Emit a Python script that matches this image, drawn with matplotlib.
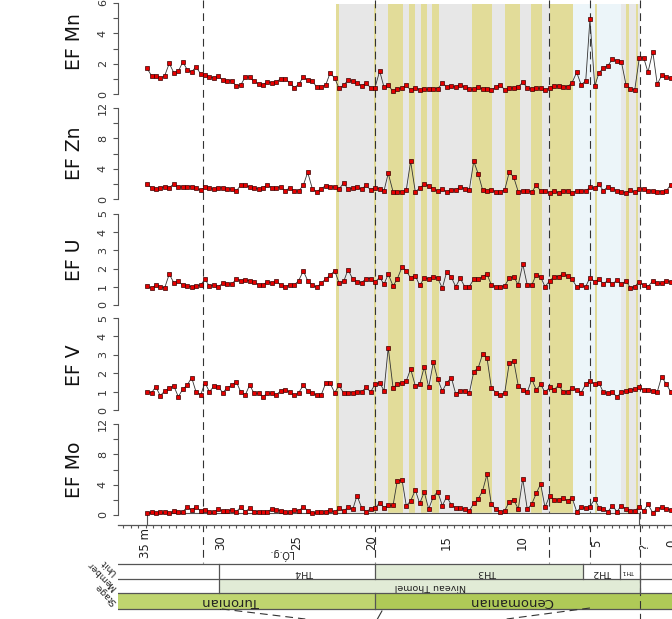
import numpy as np
import matplotlib.pyplot as plt
from matplotlib.ticker import MultipleLocator

# sample depths (m) shared by all five records
depth = [34.95, 34.62, 34.35, 34.05, 33.75, 33.45, 33.15, 32.85, 32.55, 32.25, 31.96, 31.67, 31.36, 31.07, 30.78, 30.47, 30.19, 29.89,
         29.59, 29.29, 28.99, 28.70, 28.39, 28.10, 27.81, 27.50, 27.21, 26.93, 26.61, 26.33, 26.03, 25.73, 25.44, 25.13, 24.84, 24.53,
         24.24, 23.93, 23.64, 23.35, 23.04, 22.75, 22.44, 22.16, 21.84, 21.56, 21.24, 20.96, 20.65, 20.36, 20.05, 19.76, 19.45, 19.16,
         18.88, 18.56, 18.28, 17.96, 17.68, 17.39, 17.08, 16.79, 16.48, 16.19, 15.88, 15.59, 15.28, 14.99,
         14.68, 14.39, 14.09, 13.79, 13.49, 13.19, 12.89, 12.60, 12.31, 12.02, 11.71, 11.42, 11.13, 10.83, 10.53, 10.23, 9.93, 9.63,
         9.33, 9.03, 8.74, 8.45, 8.14, 7.85, 7.54, 7.25, 6.94, 6.65, 6.34, 6.05, 5.74, 5.46, 5.14, 4.86, 4.57, 4.26, 3.97, 3.66,
         3.37, 3.06, 2.77, 2.48, 2.18, 1.88, 1.60, 1.28, 0.98, 0.69, 0.38, 0.09]

ef_mn = [1.73, 1.19, 1.19, 1.03, 1.21, 2.02, 1.41, 1.49, 2.11, 1.60, 1.45, 1.80, 1.32, 1.23, 1.14, 1.05, 1.17, 0.92,
         0.88, 0.86, 0.53, 0.57, 1.14, 1.10, 0.84, 0.66, 0.61, 0.79, 0.73, 0.79, 1.01, 0.99, 0.75, 0.42, 0.64, 1.12, 0.90, 0.88,
         0.44, 0.48, 0.59, 1.38, 1.05, 0.38, 0.57, 0.92, 0.84, 0.71, 0.55, 0.71, 0.42, 0.42, 1.52, 0.44, 0.57, 0.18, 0.33, 0.42,
         0.57, 0.26, 0.42, 0.28, 0.31, 0.31, 0.35, 0.35, 0.71, 0.48,
         0.53, 0.44, 0.61, 0.44, 0.31, 0.31, 0.44, 0.35, 0.35, 0.26, 0.46, 0.61, 0.26, 0.38, 0.40, 0.48, 0.77, 0.42, 0.31, 0.38,
         0.38, 0.26, 0.40, 0.51, 0.53, 0.48, 0.48, 0.75, 1.43, 0.61, 0.86, 4.92, 0.53, 1.38, 1.73, 1.87, 2.29, 2.20, 2.13, 0.61,
         0.35, 0.26, 2.35, 2.39, 1.43, 2.79, 0.64, 1.23, 1.14, 1.03]

ef_zn = [1.94, 1.49, 1.28, 1.49, 1.62, 1.49, 1.98, 1.54, 1.62, 1.62, 1.62, 1.41, 1.19, 1.54, 1.41, 1.28, 1.41, 1.49,
         1.36, 1.28, 1.05, 1.81, 1.81, 1.58, 1.49, 1.28, 1.49, 1.85, 1.49, 1.49, 1.62, 1.05, 1.49, 1.05, 1.05, 1.81, 3.52, 1.36,
         0.96, 1.36, 1.75, 1.58, 1.58, 1.28, 2.15, 1.28, 1.41, 1.58, 1.28, 1.81, 1.19, 1.49, 1.36, 1.09, 3.39, 0.96, 0.96, 0.96,
         1.19, 4.97, 0.96, 1.41, 1.94, 1.75, 1.36, 1.05, 1.28, 0.96,
         1.19, 1.19, 1.62, 1.36, 1.19, 4.97, 3.30, 1.19, 1.05, 1.19, 0.96, 0.96, 1.19, 3.56, 2.86, 0.96, 1.09, 1.09, 0.92, 1.81,
         1.05, 1.05, 0.83, 1.05, 0.83, 1.09, 1.05, 0.83, 1.05, 1.05, 1.05, 1.54, 1.41, 1.94, 1.09, 1.62, 1.36, 1.09, 0.96, 0.83,
         1.19, 0.88, 1.36, 1.28, 1.09, 1.05, 0.96, 0.96, 1.09, 1.85]

ef_u = [1.04, 0.92, 1.10, 1.01, 0.95, 1.70, 1.23, 1.30, 1.10, 1.04, 1.01, 1.04, 1.10, 1.41, 1.04, 1.10, 1.01, 1.19,
        1.15, 1.15, 1.43, 1.34, 1.37, 1.34, 1.28, 1.10, 1.10, 1.28, 1.19, 1.30, 1.10, 1.01, 1.10, 1.10, 1.34, 1.87, 1.34, 1.10,
        0.97, 1.19, 1.43, 1.63, 1.88, 1.23, 1.30, 1.94, 1.43, 1.28, 1.23, 1.45, 1.45, 1.26, 1.52, 1.14, 1.70, 1.04, 1.43, 2.09,
        1.88, 1.48, 1.61, 1.08, 1.48, 1.43, 1.54, 1.47, 0.93, 1.83,
        1.52, 1.01, 1.47, 1.01, 1.01, 1.41, 1.41, 1.56, 1.70, 1.10, 1.01, 1.01, 1.06, 1.47, 1.56, 1.10, 2.25, 1.10, 1.10, 1.67,
        1.54, 1.01, 1.32, 1.56, 1.56, 1.72, 1.59, 1.41, 1.01, 1.08, 1.01, 1.50, 1.28, 1.43, 1.15, 1.36, 1.14, 1.37, 1.14, 1.32,
        0.95, 1.01, 1.28, 1.08, 1.01, 1.32, 1.19, 1.19, 1.32, 1.26]

ef_v = [0.99, 0.94, 1.27, 0.78, 1.03, 1.18, 1.32, 0.72, 1.13, 1.36, 1.76, 0.99, 0.82, 1.48, 0.99, 1.30, 1.27, 0.94,
        1.21, 1.34, 1.54, 0.99, 0.82, 1.36, 0.91, 0.91, 0.72, 0.91, 0.91, 0.82, 1.05, 1.09, 0.99, 0.80, 0.94, 1.34, 1.05, 0.94,
        0.80, 0.80, 1.45, 1.45, 0.94, 1.34, 0.91, 0.94, 0.94, 0.98, 0.98, 1.23, 0.98, 1.40, 1.48, 1.05, 3.39, 1.21, 1.40, 1.48,
        1.58, 2.23, 1.32, 1.40, 2.35, 1.23, 2.59, 1.68, 1.02, 1.48,
        1.76, 0.87, 1.05, 1.03, 0.91, 2.08, 2.30, 3.04, 2.84, 1.21, 0.94, 0.82, 0.94, 2.54, 2.66, 1.32, 1.09, 0.96, 1.68, 1.09,
        1.40, 0.96, 1.23, 1.09, 1.36, 0.99, 0.99, 1.18, 1.09, 0.94, 1.40, 1.59, 1.41, 1.48, 0.96, 0.91, 0.96, 0.72, 0.96, 1.05,
        1.09, 1.12, 1.23, 1.09, 1.09, 1.05, 0.99, 1.81, 1.41, 0.99]

ef_mo = [0.22, 0.36, 0.22, 0.36, 0.36, 0.22, 0.53, 0.40, 0.40, 1.09, 0.66, 1.09, 0.53, 0.66, 0.44, 0.36, 0.75, 0.53,
         0.53, 0.66, 0.44, 1.01, 0.44, 0.88, 0.44, 0.44, 0.44, 0.44, 0.79, 0.66, 0.57, 0.44, 0.36, 0.66, 0.53, 1.09, 0.53, 0.22,
         0.36, 0.36, 0.44, 0.66, 0.36, 0.88, 0.53, 1.01, 0.75, 2.55, 0.97, 0.44, 0.79, 0.88, 1.62, 0.97, 1.27, 1.27, 4.48, 4.62,
         1.23, 1.85, 3.30, 1.54, 2.99, 0.79, 2.42, 3.08, 1.23, 2.42,
         1.32, 0.97, 0.88, 0.79, 0.53, 1.54, 2.11, 3.21, 5.36, 1.41, 0.75, 0.44, 0.57, 1.75, 1.98, 0.79, 4.79, 0.79, 1.45, 2.86,
         4.09, 1.01, 2.55, 1.98, 1.98, 2.20, 1.89, 2.28, 0.44, 1.01, 0.88, 1.09, 2.11, 0.97, 0.79, 0.44, 1.23, 0.44, 1.23, 0.79,
         0.57, 0.53, 1.09, 0.53, 1.41, 0.31, 0.79, 1.01, 0.79, 0.66]

# intervals (top, base in m)
grey_zone = (22.36, 2.13)
yellow_zones = [(22.36, 22.16), (19.82, 19.72), (18.90, 17.90), (17.50, 17.10), (16.70, 16.30), (15.97, 15.50),
                (13.31, 11.98), (11.11, 10.11), (9.38, 8.65), (8.12, 6.59), (5.12, 4.99), (3.06, 2.86), (2.40, 2.26)]
blue_zone = (6.59, 3.39)
dashed_at = [31.2, 19.76, 8.18, 5.46, 2.13]

xticks = [35, 30, 25, 20, 15, 10, 5, 0]
xticklabels = ["35 m", "30", "25", "20", "15", "10", "5", "0"]

stages = [("Turonian", 36.86, 19.76, "#bfd56f", 29.34), ("Cenomanian", 19.76, -1.0, "#afca57", 10.71)]
member = ("Niveau Thomel", 30.14, 2.13, 16.1)
units = [("TH4", 30.14, 19.76, 24.42), ("TH3", 19.76, 5.92, 12.24), ("TH2", 5.92, 3.46, 4.59), ("TH1", 3.46, 2.13, 2.93)]

W, H = 672, 619
XL = (36.86, 0.0)
fig = plt.figure(figsize=(6.72, 6.19), dpi=100)
plt.rcParams['font.family'] = ['DejaVu Sans']


def fy(py):
    return 1 - py / H


AX_L = 118 / W
AX_W = (672 - 118) / W

# background / overlay in (depth, pixel row) coordinates
ov = fig.add_axes([AX_L, 0, AX_W, 1])
ov.set_xlim(*XL)
ov.set_ylim(H, 0)
ov.axis('off')

y_lo, y_hi = 1 - 513 / H, 1 - 4 / H
ov.axvspan(grey_zone[1], grey_zone[0], y_lo, y_hi, color='#e7e7e7', lw=0)
ov.axvspan(blue_zone[1], blue_zone[0], y_lo, y_hi, color='#ecf5f9', lw=0)
for a, b in yellow_zones:
    ov.axvspan(b, a, y_lo, y_hi, color='#e2dc99', lw=0)

dash = (0, (7, 4.5))
for d in dashed_at:
    bottom = 619 if d == dashed_at[-1] else 563
    ov.plot([d, d], [0, bottom], color='#333333', lw=0.8, ls=dash)

# white log strip under the Mo curve
ov.fill_between([34.93, 2.20], 513, 525, color='white', zorder=2)
ov.plot([34.93, 34.93, 2.20, 2.20], [525, 513, 513, 525], color='#555555', lw=0.8, zorder=3)

# stratigraphic columns
for name, a, b, c, xt in stages:
    ov.fill_between([a, b], 593, 609, color=c, lw=0)
    ov.text(xt, 601.5, name, rotation=180, ha='center', va='center', fontsize=9.5, color='#222222')
ov.fill_between([member[1], member[2]], 579, 593, color='#e1ebd6', lw=0)
ov.text(member[3], 586, member[0], rotation=180, ha='center', va='center', fontsize=6.8, color='#222222')
ov.fill_between([units[1][1], units[1][2]], 564, 579, color='#e1ebd6', lw=0)
for name, a, b, xt in units:
    ov.text(xt, 572, name, rotation=180, ha='center', va='center',
            fontsize=4.5 if name == "TH1" else 6.8, color='#222222')
for yy in [564, 579, 593, 609]:
    ov.plot(XL, [yy, yy], color='#555555', lw=0.9)
for d, y0, y1 in [(30.14, 564, 593), (19.76, 564, 579), (19.76, 593, 609), (5.92, 564, 579),
                  (3.46, 564, 579), (2.13, 564, 593)]:
    ov.plot([d, d], [y0, y1], color='#555555', lw=0.9)

# fan lines below the columns
ov.plot([29.95, 24.4], [609, 619], color='#333333', lw=0.8, ls=dash, clip_on=False)
ov.plot([5.46, 11.0], [608, 619], color='#333333', lw=0.8, ls=dash, clip_on=False)
ov.plot([19.3, 19.6], [611, 619], color='#333333', lw=0.8, clip_on=False)

for lab, py in [("Stage", 603), ("Member", 589), ("Unit", 574)]:
    fig.text(115 / W, fy(py), lab, rotation=135, rotation_mode='anchor', ha='left', va='center',
             fontsize=6.5, color='#222222')

ov.text(1.8, 547, "?", rotation=90, ha='center', va='center', fontsize=8.5, color='#222222')
ov.text(26.05, 554, "LÓ.g.", rotation=180, ha='center', va='center', fontsize=7, color='#222222')

# geochemical panels
panels = [("EF Mn", ef_mn, 6, 2, 94, 3, 41.5),
          ("EF Zn", ef_zn, 12, 4, 199, 108, 153.5),
          ("EF U", ef_u, 5, 1, 305, 214, 259.5),
          ("EF V", ef_v, 5, 1, 410, 318, 365),
          ("EF Mo", ef_mo, 12, 4, 515, 424, 469.5)]

for label, vals, ymax, step, y0, y1, ylab in panels:
    ax = fig.add_axes([AX_L, fy(y0), AX_W, (y0 - y1) / H])
    ax.patch.set_alpha(0)
    ax.plot(depth, vals, '-', color='#333333', lw=0.6, marker='s', ms=3.3,
            mfc='#e60000', mec='#3a0000', mew=0.5, clip_on=False)
    ax.set_xlim(*XL)
    ax.set_ylim(0, ymax)
    for s in ['top', 'right', 'bottom']:
        ax.spines[s].set_visible(False)
    ax.spines['left'].set_bounds(0, ymax)
    ax.spines['left'].set_color('#555555')
    ax.spines['left'].set_linewidth(0.8)
    ax.set_xticks([])
    ticks = list(range(0, ymax + 1, step))
    ax.set_yticks(ticks, [str(t) for t in ticks], rotation=90, va='center')
    if step > 1:
        ax.yaxis.set_minor_locator(MultipleLocator(step / 2))
    ax.tick_params(axis='y', which='both', length=3.6, width=0.8, color='#555555', pad=3.7,
                   labelsize=8, labelcolor='#333333')
    fig.text(75 / W, fy(ylab), label, rotation=90, ha='center', va='center', fontsize=13.5, color='#111111')

# depth axis
ax_x = fig.add_axes([AX_L, fy(524.5), AX_W, 1 / H])
ax_x.patch.set_alpha(0)
ax_x.set_xlim(*XL)
for s in ['top', 'right', 'left']:
    ax_x.spines[s].set_visible(False)
ax_x.spines['bottom'].set_color('#555555')
ax_x.spines['bottom'].set_linewidth(0.9)
ax_x.set_yticks([])
ax_x.set_xticks(xticks, xticklabels, rotation=90, va='center', ha='center')
ax_x.xaxis.set_minor_locator(MultipleLocator(0.5))
ax_x.tick_params(axis='x', which='both', length=2.5, width=0.8, color='#555555', pad=10.8,
                 labelsize=8.5, labelcolor='#222222')

fig.savefig("out.png", dpi=100)
